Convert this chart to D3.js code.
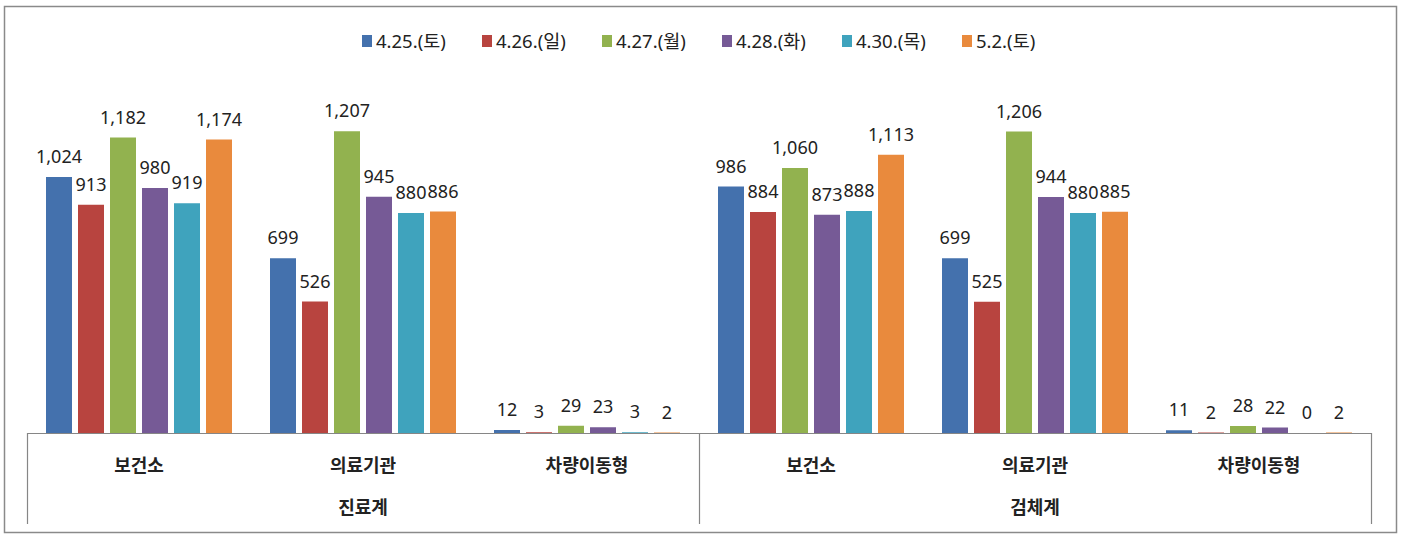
<!DOCTYPE html>
<html><head><meta charset="utf-8">
<script src="https://cdn.jsdelivr.net/npm/d3@7"></script>
<style>body{margin:0;background:#fff;} svg{display:block;}</style>
</head><body>
<svg id="chart" width="1404" height="536"></svg>
<script>
const categories = ["보건소","의료기관","차량이동형","보건소","의료기관","차량이동형"];
const groups = ["진료계","검체계"];
const series = ["4.25.(토)","4.26.(일)","4.27.(월)","4.28.(화)","4.30.(목)","5.2.(토)"];
const colors = ["#4471AD","#B8443F","#92B24F","#765A96","#3FA3BD","#E98A3D"];
const v0425 = [1024,699,12,986,699,11];
const v0426 = [913,526,3,884,525,2];
const v0427 = [1182,1207,29,1060,1206,28];
const v0428 = [980,945,23,873,944,22];
const v0430 = [919,880,3,888,880,0];
const v0502 = [1174,886,2,1113,885,2];
const seriesValues = [v0425,v0426,v0427,v0428,v0430,v0502];

const svg = d3.select("#chart");
const font = "'Noto Sans','Noto Sans CJK KR',sans-serif";
const L = 27, R = 1371, base = 433;

// outer frame
svg.append("rect").attr("x",4.5).attr("y",6.5).attr("width",1392).attr("height",526)
  .attr("fill","none").attr("stroke","#8a8a8a").attr("stroke-width",1.5);

const y = d3.scaleLinear().domain([0,1400]).range([base, base-350]);
const x0 = d3.scaleBand().domain(d3.range(categories.length)).range([L,R]);
const x1 = d3.scaleBand().domain(d3.range(series.length)).range([16,208]).paddingInner(0.1875).paddingOuter(0.09375);
const xg = d3.scaleBand().domain(d3.range(groups.length)).range([L,R]);

// bars
series.forEach((s,si)=>{
  const g = svg.append("g");
  g.selectAll("rect").data(seriesValues[si]).join("rect")
    .attr("x",(d,i)=>x0(i)+x1(si))
    .attr("y",d=>y(d))
    .attr("width",x1.bandwidth())
    .attr("height",d=>base-y(d))
    .attr("fill",colors[si]);
  g.selectAll("text").data(seriesValues[si]).join("text")
    .attr("x",(d,i)=>x0(i)+x1(si)+x1.bandwidth()/2)
    .attr("y",d=>y(d)-14)
    .attr("text-anchor","middle")
    .attr("font-family",font).attr("font-size",18).attr("fill","#222")
    .text(d=>d3.format(",")(d));
});

// axis line and separators
svg.append("line").attr("x1",L).attr("x2",R).attr("y1",base+0.5).attr("y2",base+0.5)
  .attr("stroke","#868686").attr("stroke-width",1.2);
[L, xg(1), R].forEach(xx=>{
  svg.append("line").attr("x1",xx+0.5).attr("x2",xx+0.5).attr("y1",base).attr("y2",524)
    .attr("stroke","#868686").attr("stroke-width",1.2);
});

// category labels
svg.append("g").selectAll("text").data(categories).join("text")
  .attr("x",(d,i)=>x0(i)+x0.bandwidth()/2).attr("y",472)
  .attr("text-anchor","middle").attr("font-family","'Noto Sans CJK KR',sans-serif")
  .attr("font-weight","bold").attr("font-size",18).attr("fill","#222").text(d=>d);
svg.append("g").selectAll("text").data(groups).join("text")
  .attr("x",(d,i)=>xg(i)+xg.bandwidth()/2).attr("y",514)
  .attr("text-anchor","middle").attr("font-family","'Noto Sans CJK KR',sans-serif")
  .attr("font-weight","bold").attr("font-size",18).attr("fill","#222").text(d=>d);

// legend
const lx = d3.scaleLinear().domain([0,5]).range([362,962]);
const lg = svg.append("g").selectAll("g").data(series).join("g")
  .attr("transform",(d,i)=>`translate(${lx(i)},41)`);
lg.append("rect").attr("x",0).attr("y",-6).attr("width",10).attr("height",12)
  .attr("fill",(d,i)=>colors[i]);
lg.append("text").attr("x",14).attr("y",7).attr("font-family",font)
  .attr("font-size",18.5).attr("fill","#222").text(d=>d);
</script>
</body></html>
